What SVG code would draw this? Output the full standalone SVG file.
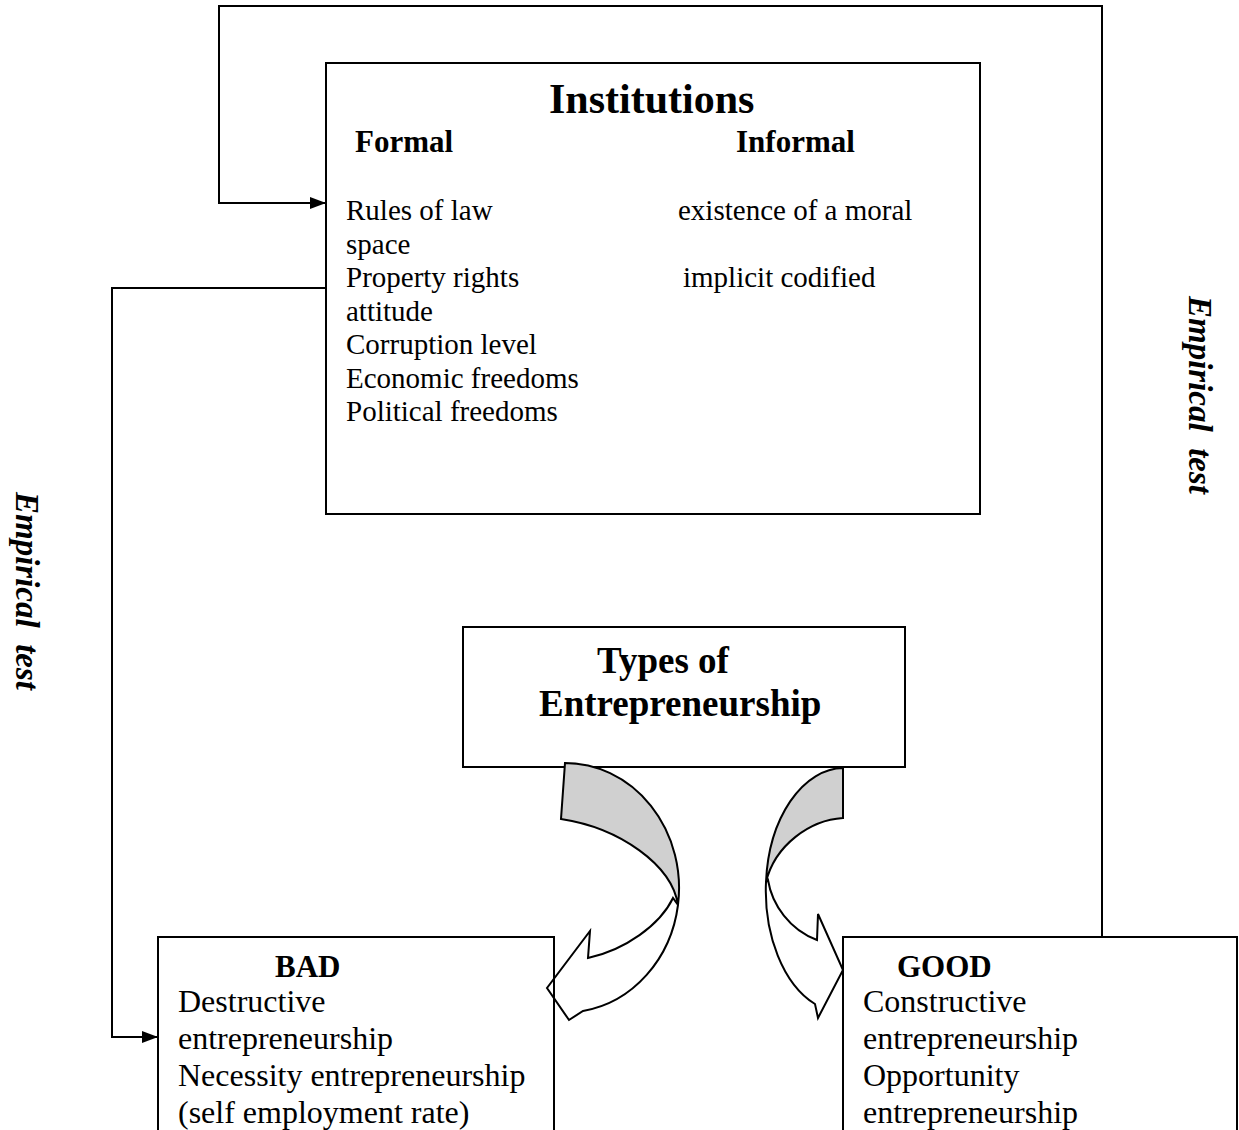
<svg xmlns="http://www.w3.org/2000/svg" width="1239" height="1130" viewBox="0 0 1239 1130">
  <style>
    text { font-family: "Liberation Serif", "Times New Roman", serif; fill: #000; }
    .box { fill: #fff; stroke: #000; stroke-width: 2; }
    .boxo { fill: none; stroke: #000; stroke-width: 2; }
    .line { fill: none; stroke: #000; stroke-width: 2; }
    .back { fill: #d0d0d0; stroke: #000; stroke-width: 2; stroke-linejoin: miter; }
    .front { fill: #fff; stroke: #000; stroke-width: 2; stroke-linejoin: miter; }
    .h1 { font-size: 42px; font-weight: bold; }
    .h2 { font-size: 31px; font-weight: bold; }
    .h3 { font-size: 37px; font-weight: bold; }
    .b29 { font-size: 29px; }
    .b32 { font-size: 32px; }
    .emp { font-size: 33px; font-weight: bold; font-style: italic; white-space: pre; }
  </style>
  <defs>
    <marker id="arr" markerWidth="18" markerHeight="14" refX="16" refY="7" orient="auto" markerUnits="userSpaceOnUse">
      <path d="M0,1 L16,7 L0,13 Z" fill="#000"/>
    </marker>
  </defs>

  <rect width="1239" height="1130" fill="#fff"/>

  <g id="institutions">
    <rect class="box" x="326" y="63" width="654" height="451"/>
    <text class="h1" x="549" y="113">Institutions</text>
    <text class="h2" x="355" y="152">Formal</text>
    <text class="h2" x="736" y="152">Informal</text>
    <text class="b29" x="346" y="220">Rules of law</text>
    <text class="b29" x="678" y="220">existence of a moral</text>
    <text class="b29" x="346" y="253.5">space</text>
    <text class="b29" x="346" y="287">Property rights</text>
    <text class="b29" x="683" y="287">implicit codified</text>
    <text class="b29" x="346" y="320.5">attitude</text>
    <text class="b29" x="346" y="354">Corruption level</text>
    <text class="b29" x="346" y="387.5">Economic freedoms</text>
    <text class="b29" x="346" y="421">Political freedoms</text>
  </g>

  <g id="types">
    <rect class="box" x="463" y="627" width="442" height="140"/>
    <text class="h3" x="597" y="673">Types of</text>
    <text class="h3" x="539" y="716">Entrepreneurship</text>
  </g>

  <g id="connectors">
    <path class="line" d="M1102,937 V6 H219 V203 H326" marker-end="url(#arr)"/>
    <path class="line" d="M326,288 H112 V1037 H158" marker-end="url(#arr)"/>
    <g id="curved-arrow-bad">
      <path class="back" d="M565,763 A114,125 0 0 1 678,905 C672,865 620,828 561,819 Z"/>
      <path class="front" d="M678,905 A114,125 0 0 1 583,1011 L569,1020 L547,988 L590,931 L588,958 C625,950 660,925 673,898 Z"/>
    </g>
    <g id="curved-arrow-good">
      <path class="back" d="M843,768 A78,122 0 0 0 766,882 C775,845 810,820 843,818 Z"/>
      <path class="front" d="M766,882 A78,122 0 0 0 815,1004 L818,1018 L843,970 L818,914 L817,940 C790,930 772,905 768,880 Z"/>
    </g>
  </g>

  <g id="bad">
    <rect class="boxo" x="158" y="937" width="396" height="200"/>
    <text class="h2" x="275" y="977">BAD</text>
    <text class="b32" x="178" y="1012">Destructive</text>
    <text class="b32" x="178" y="1049">entrepreneurship</text>
    <text class="b32" x="178" y="1086">Necessity entrepreneurship</text>
    <text class="b32" x="178" y="1123">(self employment rate)</text>
  </g>

  <g id="good">
    <rect class="boxo" x="843" y="937" width="394" height="200"/>
    <text class="h2" x="897" y="977">GOOD</text>
    <text class="b32" x="863" y="1012">Constructive</text>
    <text class="b32" x="863" y="1049">entrepreneurship</text>
    <text class="b32" x="863" y="1086">Opportunity</text>
    <text class="b32" x="863" y="1123">entrepreneurship</text>
  </g>

  <g id="labels">
    <text class="emp" transform="translate(16,492) rotate(90)" x="0" y="0">Empirical  test</text>
    <text class="emp" transform="translate(1189,296) rotate(90)" x="0" y="0">Empirical  test</text>
  </g>
</svg>
